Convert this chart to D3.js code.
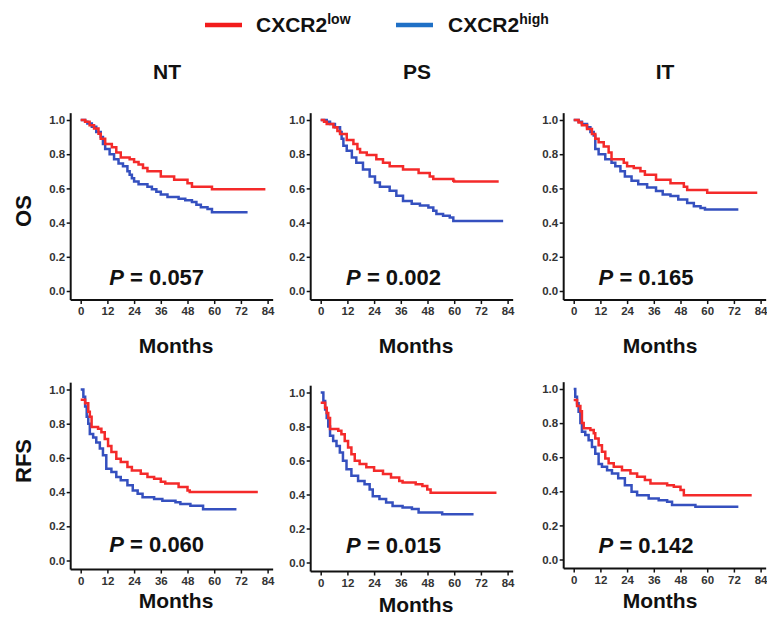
<!DOCTYPE html>
<html>
<head>
<meta charset="utf-8">
<script src="https://cdn.jsdelivr.net/npm/d3@7"></script>
<style>
  html, body { margin: 0; padding: 0; background: #ffffff; }
  svg { display: block; }
  text { font-family: "Liberation Sans", Arial, Helvetica, sans-serif; }
</style>
</head>
<body>
<svg id="chart" width="767" height="619"></svg>
<script>
// ---------------- DATA ----------------
const columns = ["NT", "PS", "IT"];
const rows = ["OS", "RFS"];
const seriesNames = ["CXCR2low", "CXCR2high"];
const monthTicks = [0, 12, 24, 36, 48, 60, 72, 84];
const survivalTicks = [0.0, 0.2, 0.4, 0.6, 0.8, 1.0];
const pValues = {
  OS: ["0.057", "0.002", "0.165"],
  RFS: ["0.060", "0.015", "0.142"]
};

// Kaplan-Meier step points [month, survival]
const osNTLow = [[0,1],[2,0.99],[4,0.97],[6,0.95],[8,0.92],[9,0.89],[11,0.86],[14,0.84],[16,0.81],[18,0.78],[22,0.77],[24,0.755],[26,0.74],[28,0.72],[30,0.70],[36,0.67],[42,0.65],[48,0.63],[50,0.61],[59,0.595],[83,0.595]];
const osNTHigh = [[0,1],[2,0.99],[3,0.98],[5,0.96],[7,0.93],[9,0.90],[10,0.86],[11,0.83],[13,0.80],[15,0.77],[17,0.745],[19,0.73],[21,0.70],[22,0.68],[23,0.66],[24,0.64],[26,0.625],[30,0.61],[32,0.595],[34,0.58],[36,0.565],[39,0.55],[44,0.54],[47,0.53],[50,0.52],[52,0.505],[54,0.49],[57,0.48],[59,0.46],[75,0.46]];
const osPSLow = [[0,1],[1.5,0.99],[2.7,0.977],[5.7,0.957],[7.5,0.935],[8.7,0.918],[11.7,0.883],[14.7,0.86],[16.5,0.83],[17.7,0.81],[20.7,0.795],[25,0.77],[28,0.75],[31,0.73],[37,0.71],[44,0.69],[49,0.67],[50.6,0.655],[59.6,0.645],[60,0.64],[80,0.64]];
const osPSHigh = [[0,1],[2.7,0.99],[4.2,0.977],[6.4,0.957],[8.7,0.93],[9.4,0.89],[10.2,0.85],[11.7,0.82],[14,0.78],[16,0.75],[19,0.71],[22,0.67],[24.4,0.635],[26.6,0.61],[31,0.586],[34,0.557],[37,0.527],[40.9,0.51],[44.6,0.50],[48.4,0.488],[50.6,0.47],[52,0.45],[55,0.44],[58,0.43],[59.6,0.41],[82,0.41]];
const osITLow = [[0,1],[2.2,0.985],[3.7,0.97],[6,0.947],[8.2,0.918],[9.7,0.89],[11.2,0.87],[13.5,0.845],[15.7,0.81],[17,0.77],[22.5,0.75],[24,0.73],[27,0.72],[30,0.70],[32,0.68],[37,0.65],[43.5,0.63],[49.5,0.61],[51,0.59],[60,0.575],[82.5,0.575]];
const osITHigh = [[0,1],[2.2,0.99],[3.7,0.977],[6,0.957],[7.5,0.93],[9,0.91],[9.7,0.83],[11.2,0.80],[14.2,0.77],[17,0.75],[18.7,0.73],[21,0.70],[23,0.67],[26,0.645],[29,0.625],[33,0.605],[37,0.585],[40,0.565],[43.5,0.555],[47,0.535],[51,0.515],[54,0.495],[57,0.486],[59,0.476],[74,0.476]];

const rfsNTLow = [[0,0.94],[2,0.92],[3.4,0.87],[4.1,0.84],[4.9,0.78],[7.8,0.77],[9.3,0.75],[10.8,0.71],[12.3,0.67],[13.8,0.635],[16,0.595],[18,0.576],[21,0.547],[23,0.527],[27,0.508],[30,0.488],[33,0.478],[36,0.46],[38,0.45],[44,0.43],[48,0.41],[49,0.40],[79.6,0.40]];
const rfsNTHigh = [[0,1],[1.2,0.957],[2,0.90],[2.7,0.84],[3.4,0.80],[4.1,0.74],[5.6,0.72],[7,0.69],[8.6,0.655],[10,0.615],[11.5,0.537],[13.8,0.517],[16,0.488],[18,0.47],[21,0.44],[23.4,0.41],[25.6,0.39],[27.8,0.37],[33,0.36],[36.7,0.35],[42.6,0.34],[44.8,0.33],[49.3,0.32],[55,0.30],[70,0.30]];
const rfsPSLow = [[0,0.94],[2,0.91],[2.7,0.88],[3.4,0.85],[4.2,0.785],[7.9,0.775],[9.3,0.755],[10.8,0.715],[12.3,0.676],[13.8,0.637],[15.3,0.598],[17.5,0.58],[20.5,0.56],[24,0.54],[28,0.52],[31.6,0.50],[35.3,0.48],[36.8,0.47],[42.7,0.46],[45.7,0.45],[47.9,0.43],[49.4,0.41],[79,0.41]];
const rfsPSHigh = [[0,1],[1.2,0.95],[2,0.90],[2.7,0.85],[3.4,0.80],[4.2,0.745],[5.6,0.715],[7.1,0.686],[8.6,0.647],[10,0.598],[11.6,0.549],[13.8,0.51],[16.8,0.48],[19.7,0.46],[22,0.43],[23.4,0.39],[26.4,0.373],[29.4,0.353],[32.3,0.333],[36.8,0.324],[41,0.314],[44,0.294],[54.6,0.284],[68.7,0.284]];
const rfsITLow = [[0,0.935],[1.5,0.90],[3,0.87],[3.7,0.80],[4.5,0.77],[7.5,0.76],[9,0.74],[9.7,0.71],[11.2,0.67],[12.7,0.632],[14.2,0.593],[15.7,0.564],[18,0.544],[21.7,0.524],[25.5,0.505],[28.5,0.485],[32,0.466],[34.5,0.446],[42,0.436],[45,0.426],[48,0.407],[49.5,0.377],[80,0.377]];
const rfsITHigh = [[0,1],[0.7,0.955],[1.5,0.916],[2.2,0.867],[3,0.80],[3.7,0.75],[5.2,0.73],[6.7,0.70],[8.2,0.66],[9.7,0.62],[11.2,0.56],[12.7,0.544],[15,0.524],[17.2,0.505],[20,0.476],[23,0.436],[26,0.397],[28.5,0.377],[33.7,0.358],[38.2,0.348],[42,0.338],[44.2,0.319],[54.7,0.31],[74,0.31]];

const curves = {
  OS:  [[osNTLow, osNTHigh], [osPSLow, osPSHigh], [osITLow, osITHigh]],
  RFS: [[rfsNTLow, rfsNTHigh], [rfsPSLow, rfsPSHigh], [rfsITLow, rfsITHigh]]
};

// ---------------- LAYOUT ----------------
const colors = { low: "#f42a2a", high: "#3550bf", legendLow: "#f21c1c", legendHigh: "#1f70c6" };
const colLayout = [
  { x0: 80.7,  titleX: 167, monthsX: 176, pX: 156.7 },
  { x0: 320.7, titleX: 417, monthsX: 416, pX: 393.5 },
  { x0: 573.7, titleX: 665, monthsX: 660, pX: 646 }
];
const rowLayout = {
  OS:  { y1: [120, 120, 120], y0: [291, 291, 291], pY: [284.5, 284.5, 284.5], monthsY: [353, 353, 353], labelY: 211 },
  RFS: { y1: [389.5, 392.5, 389], y0: [560.5, 562.5, 559.5], pY: [552, 553, 553], monthsY: [608, 612, 608], labelY: 461 }
};
const pxPerMonth = 2.225;

const svg = d3.select("#chart");

// Legend
const legend = svg.append("g");
const legItems = [
  { x1: 205, x2: 242, tx: 256, color: colors.legendLow, sup: "low" },
  { x1: 396, x2: 433, tx: 448, color: colors.legendHigh, sup: "high" }
];
legItems.forEach(d => {
  legend.append("line").attr("x1", d.x1).attr("x2", d.x2).attr("y1", 25).attr("y2", 25)
    .attr("stroke", d.color).attr("stroke-width", 4.5);
  const t = legend.append("text").attr("x", d.tx).attr("y", 32)
    .attr("font-size", 21).attr("font-weight", "bold").attr("fill", "#111");
  t.append("tspan").text("CXCR2");
  t.append("tspan").attr("font-size", 14).attr("dy", -8).text(d.sup);
});

// Column titles
columns.forEach((c, i) => {
  svg.append("text").attr("x", colLayout[i].titleX).attr("y", 79)
    .attr("text-anchor", "middle").attr("font-size", 21).attr("font-weight", "bold")
    .attr("fill", "#111").text(c);
});

// Row labels
rows.forEach(r => {
  svg.append("text")
    .attr("transform", `translate(31,${rowLayout[r].labelY}) rotate(-90)`)
    .attr("text-anchor", "middle").attr("font-size", 22).attr("font-weight", "bold")
    .attr("fill", "#111").text(r);
});

const line = d3.line().curve(d3.curveStepAfter);

rows.forEach(r => {
  columns.forEach((c, i) => {
    const L = colLayout[i];
    const R = rowLayout[r];
    const x = d3.scaleLinear().domain([0, 84]).range([L.x0, L.x0 + 84 * pxPerMonth]);
    const y = d3.scaleLinear().domain([0, 1]).range([R.y0[i], R.y1[i]]);
    const axisX = x(-4.5);
    const axisY = y(-0.053);
    const g = svg.append("g");

    // Y axis
    const ya = g.append("g").attr("transform", `translate(${axisX},0)`)
      .call(d3.axisLeft(y).tickValues(survivalTicks).tickFormat(d3.format(".1f")).tickSize(4).tickPadding(1.5));
    ya.select(".domain").attr("d", `M0,${y(1.04)}V${axisY}`).attr("stroke-width", 2).attr("stroke", "#111");
    ya.selectAll(".tick line").attr("stroke-width", 1.5).attr("stroke", "#111");
    ya.selectAll(".tick text").attr("font-size", 11.5).attr("font-weight", "bold").attr("fill", "#333")
      .attr("font-family", "Liberation Sans, Arial, sans-serif");

    // X axis
    const xa = g.append("g").attr("transform", `translate(0,${axisY})`)
      .call(d3.axisBottom(x).tickValues(monthTicks).tickSize(4).tickPadding(3));
    xa.select(".domain").attr("d", `M${axisX},0H${Math.min(x(86.5), 767)}`).attr("stroke-width", 2).attr("stroke", "#111");
    xa.selectAll(".tick line").attr("stroke-width", 1.5).attr("stroke", "#111");
    xa.selectAll(".tick text").attr("font-size", 11.5).attr("font-weight", "bold").attr("fill", "#333")
      .attr("font-family", "Liberation Sans, Arial, sans-serif");

    // Curves: high (blue) first, then low (red)
    const [low, high] = curves[r][i];
    g.append("path").datum(high).attr("fill", "none").attr("stroke", colors.high)
      .attr("stroke-width", 2.5).attr("d", line.x(d => x(d[0])).y(d => y(d[1])));
    g.append("path").datum(low).attr("fill", "none").attr("stroke", colors.low)
      .attr("stroke-width", 2.5).attr("d", line.x(d => x(d[0])).y(d => y(d[1])));

    // P value
    const pt = g.append("text").attr("x", L.pX).attr("y", R.pY[i]).attr("text-anchor", "middle")
      .attr("font-size", 22).attr("font-weight", "bold").attr("fill", "#111");
    pt.append("tspan").attr("font-style", "italic").text("P");
    pt.append("tspan").text(" = " + pValues[r][i]);

    // Months label
    g.append("text").attr("x", L.monthsX).attr("y", R.monthsY[i]).attr("text-anchor", "middle")
      .attr("font-size", 21).attr("font-weight", "bold").attr("fill", "#111").text("Months");
  });
});
</script>
</body>
</html>
